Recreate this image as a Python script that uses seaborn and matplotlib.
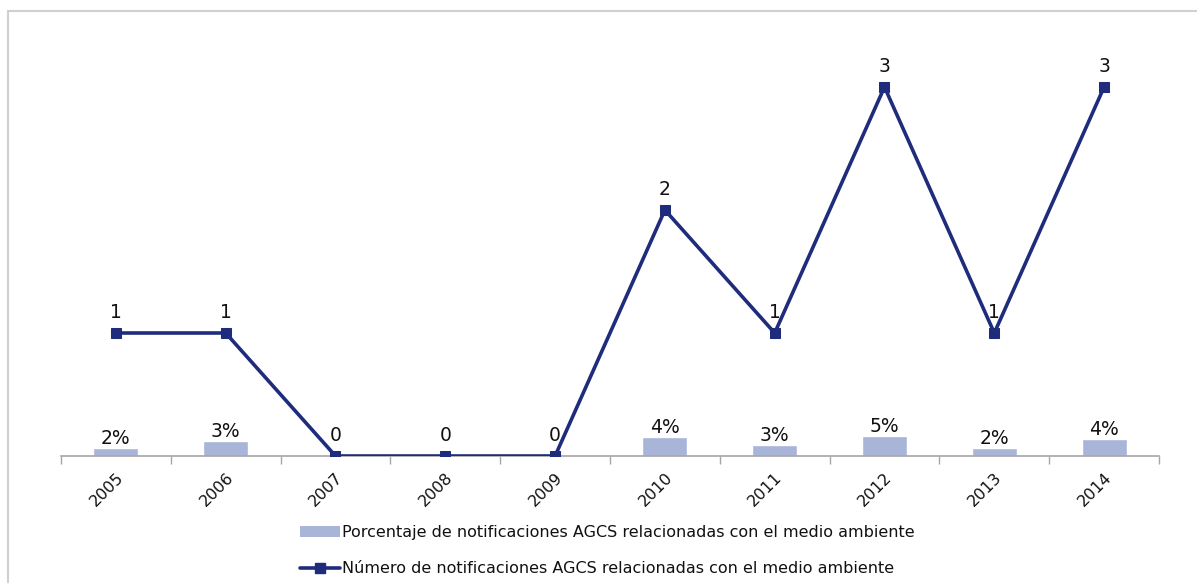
import numpy as np
import pandas as pd
import matplotlib
matplotlib.use("Agg")
import matplotlib.pyplot as plt
import seaborn as sns
from matplotlib.patches import Rectangle, Patch
from matplotlib.lines import Line2D

years = ["2005", "2006", "2007", "2008", "2009", "2010", "2011", "2012", "2013", "2014"]
pct_env = [0.018, 0.034, 0.0, 0.0, 0.0, 0.043, 0.026, 0.046, 0.019, 0.039]
num_env = [1, 1, 0, 0, 0, 2, 1, 3, 1, 3]

bar_label = "Porcentaje de notificaciones AGCS relacionadas con el medio ambiente"
line_label = "Número de notificaciones AGCS relacionadas con el medio ambiente"

bar_color = "#A9B4D9"
line_color = "#1F2C7C"
txt = "#111111"

sns.set_theme(style="white")
plt.rcParams["font.family"] = ["DejaVu Sans"]

df = pd.DataFrame({"year": years, "pct": pct_env, "num": num_env})

W, H = 1197, 583
fig = plt.figure(figsize=(W / 100, H / 100), dpi=100)
fig.patches.append(Rectangle((7.5 / W, -0.1), 1.2, 1 - 10.5 / H + 0.1,
                             transform=fig.transFigure, fill=False,
                             edgecolor="#D0D0D0", linewidth=1.5))

ax = fig.add_axes([61 / W, (H - 456) / H, 1098 / W, (456 - 25.5) / H])
sns.barplot(data=df, x="year", y="pct", order=years, color=bar_color,
            width=0.41, saturation=1, ax=ax)
ax.set_ylim(0, 1)
ax.set_xlim(-0.5, len(years) - 0.5)

ax2 = ax.twinx()
pos = np.arange(len(years))
sns.lineplot(x=pos, y=df["num"], ax=ax2, color=line_color, linewidth=2.6,
             marker="s", markersize=7.5, markeredgecolor=line_color)
ax2.set_ylim(0, 3.5)
ax2.set_xlim(-0.5, len(years) - 0.5)

for a in (ax, ax2):
    for s in ("top", "right", "left"):
        a.spines[s].set_visible(False)
    a.set_yticks([])
    a.set_ylabel("")
    a.set_xlabel("")
ax2.spines["bottom"].set_visible(False)
ax.spines["bottom"].set_color("#A6A6A6")
ax.spines["bottom"].set_linewidth(1.2)

ax.set_xticks(pos)
ax.set_xticklabels(years, rotation=45, ha="right", rotation_mode="anchor",
                   fontsize=11.5, color=txt)
ax.tick_params(axis="x", which="major", length=0, pad=10)
ax.set_xticks(np.arange(-0.5, len(years)), minor=True)
ax.tick_params(axis="x", which="minor", bottom=True, length=6, width=1,
               color="#A6A6A6", direction="out")

# data labels
for i, v in enumerate(pct_env):
    if v > 0:
        ax.annotate(f"{v:.0%}", (i, v), xytext=(0, 0), textcoords="offset points",
                    ha="center", va="bottom", fontsize=13.5, color=txt)
for i, v in enumerate(num_env):
    ax2.annotate(f"{v}", (i, v), xytext=(0, 8), textcoords="offset points",
                 ha="center", va="bottom", fontsize=13.5, color=txt)

handles = [Patch(facecolor=bar_color, edgecolor="none"),
           Line2D([0], [0], color=line_color, linewidth=2.6, marker="s",
                  markersize=7.5)]
leg = fig.legend(handles, [bar_label, line_label], loc="upper left",
                 bbox_to_anchor=(286 / W, 1 - 511 / H), frameon=False,
                 fontsize=11.5, handlelength=2.5, handletextpad=0.1,
                 labelspacing=1.3)
for t in leg.get_texts():
    t.set_color(txt)

fig.savefig("out.png", dpi=100)
